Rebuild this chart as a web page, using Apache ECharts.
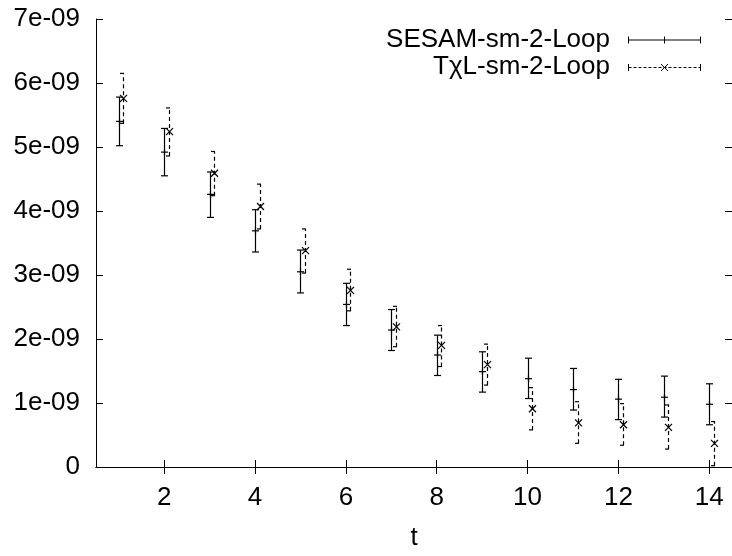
<!DOCTYPE html>
<html>
<head>
<meta charset="utf-8">
<script src="https://cdn.jsdelivr.net/npm/echarts@6/dist/echarts.min.js"></script>
<style>
html,body{margin:0;padding:0;background:#fff;}
#chart{width:732px;height:556px;}
</style>
</head>
<body>
<div id="chart"></div>
<script>
// ---- data (values in units of 1e-9) ----
var tValues = [1,2,3,4,5,6,7,8,9,10,11,12,13,14];
var xTicks = [2,4,6,8,10,12,14];
var yTicks = [0,1,2,3,4,5,6,7];
var seriesNames = ['SESAM-sm-2-Loop', 'T\u03c7L-sm-2-Loop'];

var sesamCenter = [5.40,4.92,4.26,3.69,3.05,2.54,2.14,1.75,1.49,1.38,1.21,1.06,1.09,0.98];
var sesamUpper  = [5.78,5.29,4.61,4.02,3.39,2.87,2.46,2.06,1.80,1.70,1.54,1.37,1.42,1.30];
var sesamLower  = [5.02,4.55,3.90,3.36,2.72,2.21,1.82,1.43,1.17,1.07,0.89,0.74,0.78,0.66];

var txlOffset = 0.1;
var txlCenter = [5.76,5.24,4.59,4.07,3.38,2.76,2.19,1.90,1.60,0.91,0.69,0.66,0.62,0.37];
var txlUpper  = [6.15,5.61,4.93,4.42,3.72,3.09,2.51,2.21,1.92,1.24,1.02,0.99,0.97,0.71];
var txlLower  = [5.37,4.86,4.24,3.72,3.03,2.44,1.88,1.57,1.28,0.58,0.37,0.34,0.28,0.02];

function build(center, lower, upper, off) {
  return tValues.map(function (t, i) { return [t + off, center[i] * 1e-9, lower[i] * 1e-9, upper[i] * 1e-9]; });
}

var FONT = '"Liberation Sans", Arial, Helvetica, sans-serif';
var FS = 26;
var chart = echarts.init(document.getElementById('chart'));

function makeRender(dashed, marker) {
  return function (params, api) {
    var c = api.coord([api.value(0), api.value(1)]);
    var lo = api.coord([api.value(0), api.value(2)]);
    var hi = api.coord([api.value(0), api.value(3)]);
    var st = { stroke: '#000', lineWidth: 1.2, lineDash: dashed ? [4, 3] : null };
    var cap = 3.5;
    var x = Math.round(c[0]) + 0.5;
    var kids = [
      { type: 'line', shape: { x1: x, y1: lo[1], x2: x, y2: hi[1] }, style: st },
      { type: 'line', shape: { x1: x - cap, y1: lo[1], x2: x + cap, y2: lo[1] }, style: st },
      { type: 'line', shape: { x1: x - cap, y1: hi[1], x2: x + cap, y2: hi[1] }, style: st }
    ];
    var ms = { stroke: '#000', lineWidth: 1.2 };
    if (marker === 'plus') {
      kids.push({ type: 'line', shape: { x1: x - 3.5, y1: c[1], x2: x + 3.5, y2: c[1] }, style: ms });
      kids.push({ type: 'line', shape: { x1: x, y1: c[1] - 3.5, x2: x, y2: c[1] + 3.5 }, style: ms });
    } else {
      kids.push({ type: 'line', shape: { x1: x - 3.5, y1: c[1] - 3.5, x2: x + 3.5, y2: c[1] + 3.5 }, style: ms });
      kids.push({ type: 'line', shape: { x1: x - 3.5, y1: c[1] + 3.5, x2: x + 3.5, y2: c[1] - 3.5 }, style: ms });
    }
    return { type: 'group', children: kids };
  };
}

function legendRow(y, dashed, marker, label) {
  var x1 = 628.5, x2 = 700.5, xm = 664.5;
  var st = { stroke: '#000', lineWidth: 1, lineDash: dashed ? [3, 2] : null };
  var ms = { stroke: '#000', lineWidth: 1 };
  var items = [
    { type: 'text', x: 610, y: y, style: { text: label, font: FS + 'px ' + FONT, fill: '#000', align: 'right', verticalAlign: 'middle' } },
    { type: 'line', shape: { x1: x1, y1: y + 0.5, x2: x2, y2: y + 0.5 }, style: st },
    { type: 'line', shape: { x1: x1, y1: y - 3, x2: x1, y2: y + 4 }, style: ms },
    { type: 'line', shape: { x1: x2, y1: y - 3, x2: x2, y2: y + 4 }, style: ms }
  ];
  if (marker === 'plus') {
    items.push({ type: 'line', shape: { x1: xm, y1: y - 3, x2: xm, y2: y + 4 }, style: ms });
  } else {
    items.push({ type: 'line', shape: { x1: xm - 3.5, y1: y - 3, x2: xm + 3.5, y2: y + 4 }, style: ms });
    items.push({ type: 'line', shape: { x1: xm - 3.5, y1: y + 4, x2: xm + 3.5, y2: y - 3 }, style: ms });
  }
  return items;
}

var axisLineStyle = { color: '#000', width: 1 };

var option = {
  animation: false,
  backgroundColor: '#fff',
  grid: { left: 96, top: 19, width: 637, height: 454, show: false },
  xAxis: [{
    type: 'value', min: 0.5, max: 14.5, position: 'bottom',
    name: 't', nameLocation: 'middle', nameGap: 58,
    nameTextStyle: { fontFamily: FONT, fontSize: FS, color: '#000' },
    axisLine: { show: true, lineStyle: axisLineStyle },
    axisTick: { show: true, inside: true, length: 7, customValues: xTicks, lineStyle: axisLineStyle },
    axisLabel: { show: true, customValues: xTicks, margin: 18, fontFamily: FONT, fontSize: FS, color: '#000' },
    splitLine: { show: false }
  }, {
    type: 'value', min: 0.5, max: 14.5, position: 'top',
    axisLine: { show: true, lineStyle: axisLineStyle },
    axisTick: { show: true, inside: true, length: 7, customValues: xTicks, lineStyle: axisLineStyle },
    axisLabel: { show: false },
    splitLine: { show: false }
  }],
  yAxis: [{
    type: 'value', min: 0, max: 7e-9, interval: 1e-9, position: 'left',
    axisLine: { show: true, lineStyle: axisLineStyle },
    axisTick: { show: true, inside: true, length: 7, lineStyle: axisLineStyle },
    axisLabel: {
      show: true, margin: 16, fontFamily: FONT, fontSize: FS, color: '#000',
      formatter: function (v) { var n = Math.round(v * 1e9); return n === 0 ? '0' : n + 'e-09'; }
    },
    splitLine: { show: false }
  }, {
    type: 'value', min: 0, max: 7e-9, interval: 1e-9, position: 'right',
    axisLine: { show: true, lineStyle: axisLineStyle },
    axisTick: { show: true, inside: true, length: 7, lineStyle: axisLineStyle },
    axisLabel: { show: false },
    splitLine: { show: false }
  }],
  graphic: legendRow(39.5, false, 'plus', seriesNames[0]).concat(legendRow(67, true, 'cross', seriesNames[1])),
  series: [{
    type: 'custom', name: seriesNames[0], xAxisIndex: 0, yAxisIndex: 0,
    renderItem: makeRender(false, 'plus'),
    data: build(sesamCenter, sesamLower, sesamUpper, 0),
    encode: { x: 0, y: [1, 2, 3] }, clip: true
  }, {
    type: 'custom', name: seriesNames[1], xAxisIndex: 0, yAxisIndex: 0,
    renderItem: makeRender(true, 'cross'),
    data: build(txlCenter, txlLower, txlUpper, txlOffset),
    encode: { x: 0, y: [1, 2, 3] }, clip: true
  }]
};
chart.setOption(option);
</script>
</body>
</html>
